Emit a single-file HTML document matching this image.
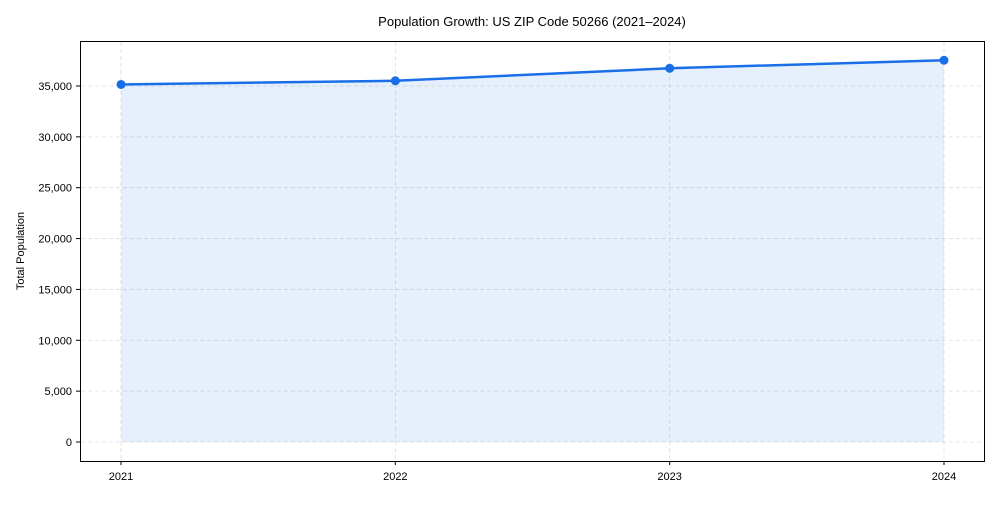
<!DOCTYPE html>
<html><head><meta charset="utf-8"><style>
body{margin:0;background:#fff;font-family:"Liberation Sans",Arial,sans-serif}
svg text{font-family:"Liberation Sans",Arial,sans-serif;fill:#000}
</style></head><body>
<svg id="c" width="1000" height="500">
<text x="532" y="26" font-size="13" text-anchor="middle">Population Growth: US ZIP Code 50266 (2021–2024)</text>
<text transform="translate(24,251) rotate(-90)" font-size="11" text-anchor="middle">Total Population</text>
<g id="grid"></g><g id="marks"></g><g id="axes"></g>
<rect x="80.5" y="41.5" width="904" height="420" fill="none" stroke="#000" stroke-width="1"/>
</svg>
<script>
const years=["2021","2022","2023","2024"];
const population=[35150,35510,36740,37530];
const yTicks=[0,5000,10000,15000,20000,25000,30000,35000];
const NS="http://www.w3.org/2000/svg";
const X0=121,X1=944,Y0=442,PX=50.86/5000;
const xs=i=>X0+(X1-X0)*i/(years.length-1);
const ys=v=>Y0-v*PX;
function mk(t,a,p){const e=document.createElementNS(NS,t);for(const k in a)e.setAttribute(k,a[k]);p.appendChild(e);return e;}
const grid=document.getElementById('grid'),marks=document.getElementById('marks'),axes=document.getElementById('axes');
yTicks.forEach(v=>{const y=ys(v);
 const g=mk('line',{x1:81,x2:984,y1:y,y2:y,stroke:'#ddd','stroke-dasharray':'4,3','stroke-width':0.8},grid);
 
 
 const t=mk('line',{x1:76,x2:80,y1:y,y2:y,stroke:'#000'},axes);
 
 
 const l=mk('text',{x:72,y:y+4,'font-size':11,'text-anchor':'end'},axes);l.textContent=v.toLocaleString('en-US');
 
 
});
years.forEach((yr,i)=>{const x=xs(i);
 const g=mk('line',{x1:x,x2:x,y1:42,y2:461,stroke:'#ddd','stroke-dasharray':'4,3','stroke-width':0.8},grid);
 
 
 const t=mk('line',{x1:x,x2:x,y1:461,y2:465,stroke:'#000'},axes);
 
 
 const l=mk('text',{x:x,y:480,'font-size':11,'text-anchor':'middle'},axes);l.textContent=yr;
 
 
});
let pts=population.map((v,i)=>xs(i)+','+ys(v));
const area=mk('polygon',{points:pts.join(' ')+' '+xs(years.length-1)+','+ys(0)+' '+xs(0)+','+ys(0),fill:'#1a73e8','fill-opacity':0.11},marks);


const line=mk('polyline',{points:pts.join(' '),fill:'none',stroke:'#1a6fe8','stroke-width':2.5},marks);


population.forEach((v,i)=>{const c=mk('circle',{cx:xs(i),cy:ys(v),r:4.5,fill:'#1a6fe8'},marks);
 
 
});
</script>
</body></html>
